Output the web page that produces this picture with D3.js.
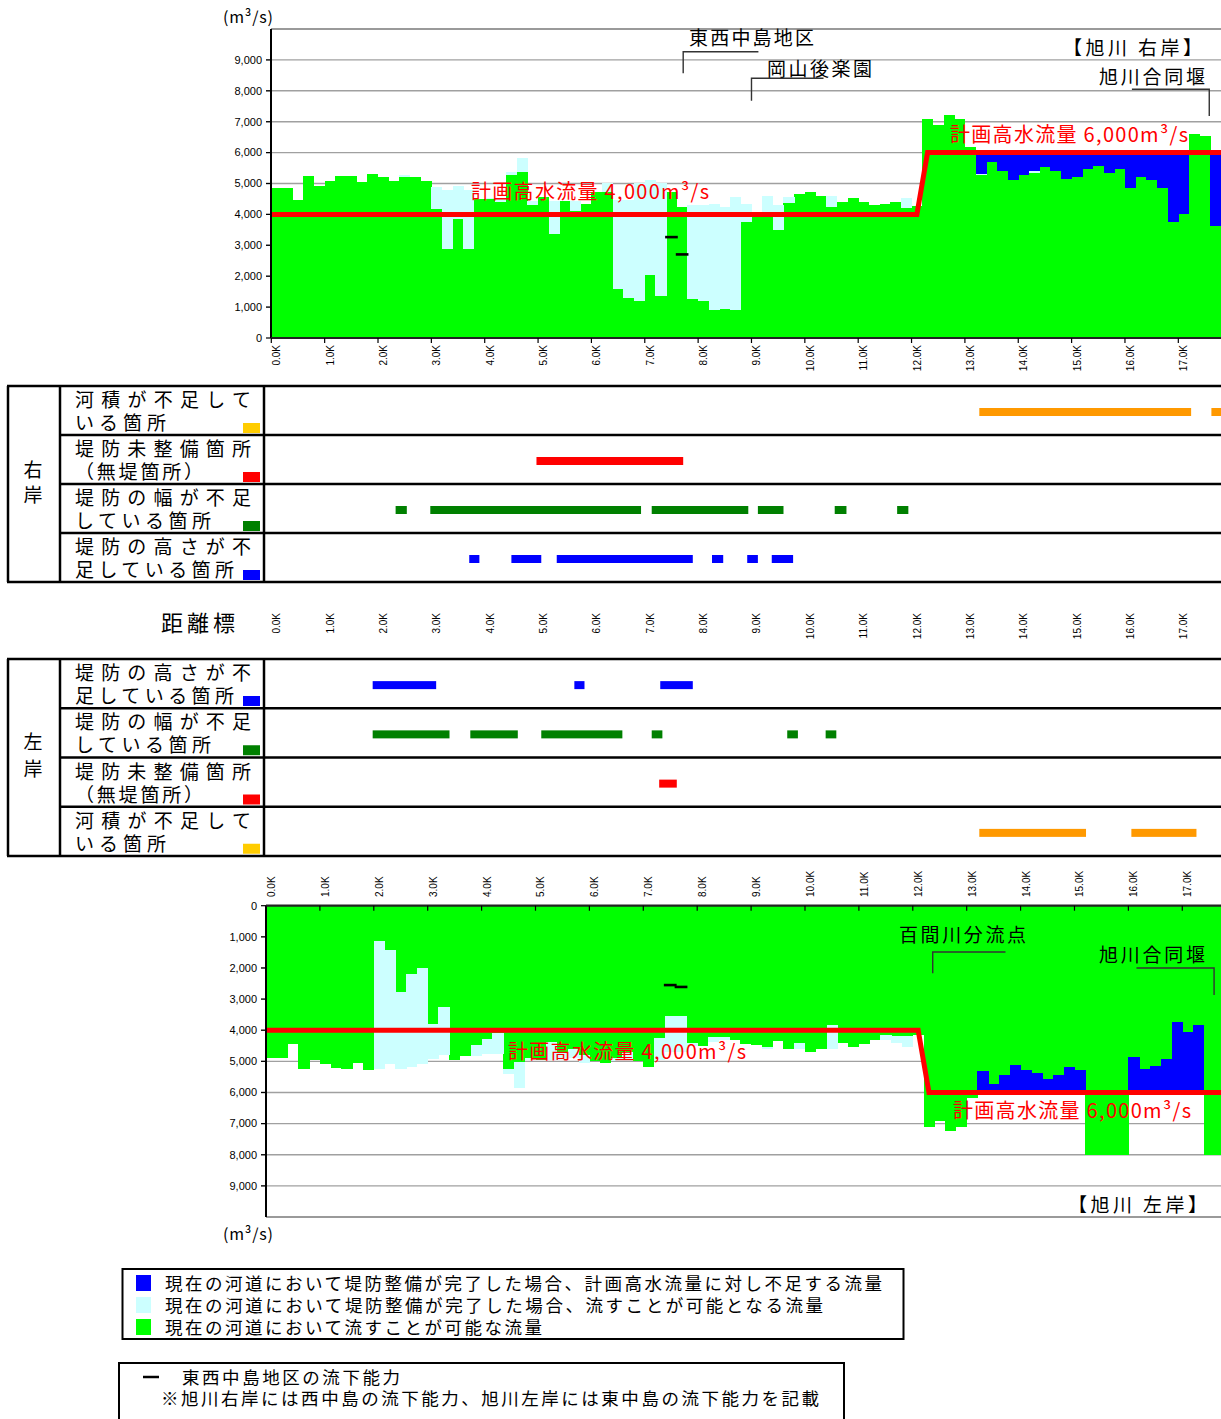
<!DOCTYPE html>
<html>
<head>
<meta charset="utf-8">
<script src="https://cdn.jsdelivr.net/npm/d3@7"></script>
<style>
  html, body { margin: 0; padding: 0; background: #fff; }
  svg { display: block; }
  text { font-family: "Noto Sans CJK JP", "Noto Sans", sans-serif; }
  .num { font-family: "Liberation Sans", Arial, sans-serif; }
  /* stacked label lines: Latin primary font keeps the line boxes compact,
     CJK glyphs come from the fallback */
  .tight { font-family: "Liberation Sans", "Noto Sans CJK JP", sans-serif; }
</style>
</head>
<body>
<svg id="chart" width="1221" height="1419"></svg>
<script>
// ---- Data -------------------------------------------------------------
// Survey stations (km). Each bar covers [station, station + 0.2].
const stations = [
  0.0, 0.2, 0.4, 0.6, 0.8, 1.0, 1.2, 1.4, 1.6, 1.8,
  2.0, 2.2, 2.4, 2.6, 2.8, 3.0, 3.2, 3.4, 3.6, 3.8,
  4.0, 4.2, 4.4, 4.6, 4.8, 5.0, 5.2, 5.4, 5.6, 5.8,
  6.0, 6.2, 6.4, 6.6, 6.8, 7.0, 7.2, 7.4, 7.6, 7.8,
  8.0, 8.2, 8.4, 8.6, 8.8, 9.0, 9.2, 9.4, 9.6, 9.8,
  10.0, 10.2, 10.4, 10.6, 10.8, 11.0, 11.2, 11.4, 11.6, 11.8,
  12.0, 12.2, 12.4, 12.6, 12.8, 13.0, 13.2, 13.4, 13.6, 13.8,
  14.0, 14.2, 14.4, 14.6, 14.8, 15.0, 15.2, 15.4, 15.6, 15.8,
  16.0, 16.2, 16.4, 16.6, 16.8, 17.0, 17.2, 17.4, 17.6
];
const stationStep = 0.2;

// Right bank (旭川 右岸): capacity of the present channel (m3/s)
const rightCurrent = [
  4850, 4850, 4450, 5230, 4935, 5085, 5230, 5230, 5040, 5310,
  5195, 5085, 5195, 5195, 5085, 4180, 2870, 3860, 2890, 4500,
  4500, 4390, 5260, 5380, 4300, 4550, 3370, 4440, 4095, 4350,
  4710, 4710, 1595, 1290, 1185, 2035, 1345, 4720, 4235, 1260,
  1185, 895, 950, 895, 3750, 4085, 4085, 3500, 4385, 4665,
  4710, 4580, 4255, 4410, 4515, 4410, 4300, 4340, 4410, 4200,
  4280, 7090, 6885, 7220, 7090, 6195, 5290, 5710, 5410, 5120,
  5280, 5335, 5550, 5420, 5150, 5225, 5465, 5570, 5335, 5465,
  4870, 5195, 5120, 4870, 3770, 4010, 6605, 6540, 3640
];
// Right bank: capacity once levee works are complete (m3/s)
const rightLevee = [
  4850, 4850, 4450, 5230, 4935, 5085, 5230, 5230, 5040, 5310,
  5220, 5085, 5260, 5195, 5085, 4900, 4785, 4935, 4785, 4500,
  4520, 4500, 5370, 5820, 4440, 4550, 4430, 4440, 4440, 4350,
  4710, 5030, 4470, 4470, 5010, 5120, 5010, 4720, 4235, 4310,
  4310, 4350, 4235, 4560, 4340, 4085, 4600, 4310, 4560, 4665,
  4710, 4580, 4600, 4410, 4515, 4410, 4300, 4340, 4410, 4525,
  4280, 7090, 6885, 7220, 7090, 6195, 5320, 5710, 5410, 5120,
  5280, 5390, 5550, 5420, 5150, 5225, 5465, 5570, 5335, 5465,
  4870, 5195, 5120, 4870, 3770, 4010, 6605, 6540, 3640
];

// Left bank (旭川 左岸): capacity of the present channel (m3/s)
const leftCurrent = [
  4890, 4890, 4440, 5250, 4965, 5070, 5220, 5250, 5040, 5290,
  1135, 1420, 2770, 2205, 2000, 3810, 3250, 4965, 4825, 4470,
  4290, 4090, 5240, 5030, 4900, 4950, 4370, 4700, 4600, 4800,
  4990, 5065, 4900, 4700, 5000, 5190, 4260, 3540, 3540, 4400,
  4500, 4210, 4210, 4310, 4440, 4475, 4530, 4350, 4600, 4410,
  4710, 4600, 3820, 4420, 4530, 4440, 4310, 4150, 4200, 4200,
  4150, 7100, 6920, 7240, 7100, 6190, 5310, 5730, 5430, 5130,
  5280, 5385, 5580, 5440, 5170, 5280, 8000, 8000, 8000, 8000,
  4870, 5245, 5140, 4915, 3750, 4045, 3830, 8000, 8000
];
// Left bank: capacity once levee works are complete (m3/s)
const leftLevee = [
  4890, 4890, 4440, 5250, 4965, 5070, 5220, 5250, 5040, 5290,
  5250, 5070, 5250, 5190, 5100, 4910, 4810, 4965, 4825, 4825,
  4770, 4770, 5400, 5860, 4950, 4950, 4960, 4950, 4900, 5050,
  4990, 5065, 5000, 5000, 5000, 5190, 4960, 4700, 4700, 4500,
  4500, 4370, 4310, 4310, 4440, 4475, 4610, 4350, 4600, 4610,
  4710, 4600, 4600, 4420, 4530, 4440, 4310, 4330, 4400, 4530,
  4150, 7100, 6920, 7240, 7100, 6190, 5310, 5730, 5430, 5130,
  5280, 5385, 5580, 5440, 5170, 5280, 8000, 8000, 8000, 8000,
  4870, 5245, 5140, 4915, 3750, 4045, 3830, 8000, 8000
];

// Design high-water discharge (計画高水流量) along the river
const planKm = [0.0, 12.1, 12.3, 17.8];
const planFlow = [4000, 4000, 6000, 6000];

// 東西中島地区 capacity (right bank: 西中島, left bank: 東中島)
const nakajimaKm = [7.4, 7.6];
const nakajimaRight = [3265, 2705];
const nakajimaLeft = [2550, 2610];

// Axis ticks
const kmTicks = [0, 1, 2, 3, 4, 5, 6, 7, 8, 9, 10, 11, 12, 13, 14, 15, 16, 17];
const kmTickLabels = ["0.0K", "1.0K", "2.0K", "3.0K", "4.0K", "5.0K", "6.0K", "7.0K", "8.0K",
  "9.0K", "10.0K", "11.0K", "12.0K", "13.0K", "14.0K", "15.0K", "16.0K", "17.0K"];
const flowTicks = [0, 1000, 2000, 3000, 4000, 5000, 6000, 7000, 8000, 9000];
const flowTickLabels = ["0", "1,000", "2,000", "3,000", "4,000", "5,000", "6,000", "7,000", "8,000", "9,000"];

// Problem sections [from km, to km]
const rightAreaShort = [[13.27, 17.24], [17.62, 17.8]];
const rightNoLevee = [[4.97, 7.72]];
const rightWidthShort = [[2.33, 2.54], [2.98, 6.93], [7.13, 8.94], [9.12, 9.60], [10.56, 10.78], [11.73, 11.94]];
const rightHeightShort = [[3.71, 3.90], [4.50, 5.06], [5.35, 7.90], [8.26, 8.47], [8.92, 9.12], [9.38, 9.78]];
const leftHeightShort = [[1.90, 3.09], [5.68, 5.87], [7.29, 7.90]];
const leftWidthShort = [[1.90, 3.34], [3.73, 4.62], [5.06, 6.58], [7.13, 7.33], [9.67, 9.87], [10.39, 10.59]];
const leftNoLevee = [[7.27, 7.60]];
const leftAreaShort = [[13.27, 15.27], [16.12, 17.34]];

// ---- Styles ------------------------------------------------------------
const C = {
  green: "#00FF00", cyan: "#CCFFFF", blue: "#0000FF", red: "#FF0000",
  grid: "#A0A0A0", dkGreen: "#008000", orange: "#FF9900", yellow: "#FFCC00"
};

const svg = d3.select("#chart");
const planAt = d3.scaleLinear(planKm, planFlow);

// ---- Flow chart ---------------------------------------------------------
function flowChart(cfg) {
  const { x, y, current, levee, marks, axisLeft } = cfg;
  const g = svg.append("g");
  const [y0, yTop] = [y(0), y(10000)];
  const xr = x.range();

  // horizontal gridlines behind the bars
  g.selectAll("line.grid").data(flowTicks.slice(1)).join("line")
    .attr("x1", axisLeft - 5).attr("x2", xr[1] + 10)
    .attr("y1", d => y(d)).attr("y2", d => y(d))
    .attr("stroke", C.grid).attr("stroke-width", 1.4);
  // frame line at 10,000
  g.append("line").attr("x1", axisLeft).attr("x2", xr[1] + 10)
    .attr("y1", yTop).attr("y2", yTop).attr("stroke", "#9a9a9a").attr("stroke-width", 2.2);

  const bars = stations.map((s, i) => {
    const plan = planAt(s + stationStep / 2);
    return { s, cur: current[i], lev: Math.max(levee[i], current[i]), plan };
  });
  const bx = d => x(d.s);
  const bw = d => x(d.s + stationStep) - x(d.s) + 0.4;
  const span = (a, b) => ({ top: Math.min(y(a), y(b)), h: Math.abs(y(a) - y(b)) });

  const bg = g.append("g").attr("shape-rendering", "crispEdges");
  bg.selectAll("rect.cur").data(bars).join("rect")
    .attr("x", bx).attr("width", bw)
    .attr("y", d => span(0, d.cur).top).attr("height", d => span(0, d.cur).h)
    .attr("fill", C.green);
  bg.selectAll("rect.lev").data(bars.filter(d => d.lev > d.cur)).join("rect")
    .attr("x", bx).attr("width", bw)
    .attr("y", d => span(d.cur, d.lev).top).attr("height", d => span(d.cur, d.lev).h)
    .attr("fill", C.cyan);
  bg.selectAll("rect.short").data(bars.filter(d => d.plan > d.lev)).join("rect")
    .attr("x", bx).attr("width", bw)
    .attr("y", d => span(d.lev, d.plan).top).attr("height", d => span(d.lev, d.plan).h)
    .attr("fill", C.blue);

  // design discharge line
  g.append("path")
    .datum(planKm.map((k, i) => [k, planFlow[i]]))
    .attr("d", d3.line().x(d => x(d[0])).y(d => y(d[1])))
    .attr("fill", "none").attr("stroke", C.red).attr("stroke-width", 5)
    .attr("stroke-linejoin", "miter");

  // 東西中島地区 capacity marks
  g.selectAll("line.mark").data(nakajimaKm).join("line")
    .attr("x1", k => x(k) - 1).attr("x2", k => x(k + stationStep) + 1)
    .attr("y1", (k, i) => y(marks[i])).attr("y2", (k, i) => y(marks[i]))
    .attr("stroke", "#000").attr("stroke-width", 2.6);

  // axes
  g.append("line").attr("x1", axisLeft).attr("x2", axisLeft)
    .attr("y1", Math.min(y0, yTop)).attr("y2", Math.max(y0, yTop))
    .attr("stroke", "#000").attr("stroke-width", 2);
  g.append("line").attr("x1", axisLeft).attr("x2", xr[1] + 10)
    .attr("y1", y0).attr("y2", y0).attr("stroke", "#222").attr("stroke-width", 2.2);
  g.selectAll("line.kt").data(kmTicks).join("line")
    .attr("x1", d => x(d)).attr("x2", d => x(d))
    .attr("y1", y0).attr("y2", y0 + 5)
    .attr("stroke", "#000").attr("stroke-width", 1.2);
  g.selectAll("line.yt").data(flowTicks).join("line")
    .attr("x1", axisLeft - 5).attr("x2", axisLeft)
    .attr("y1", d => y(d)).attr("y2", d => y(d))
    .attr("stroke", "#000").attr("stroke-width", 1.2);

  // flow tick labels
  g.selectAll("text.yl").data(flowTicks).join("text").attr("class", "num")
    .attr("x", axisLeft - 9).attr("y", d => y(d)).attr("dy", "0.35em")
    .attr("text-anchor", "end").attr("font-size", 11).attr("fill", "#000")
    .text((d, i) => flowTickLabels[i]);
  return g;
}

function kmLabels(x, yAnchor, anchor) {
  svg.append("g").selectAll("text").data(kmTicks).join("text").attr("class", "num")
    .attr("transform", d => `translate(${x(d) + 5.5},${yAnchor}) rotate(-90)`)
    .attr("dy", "0.35em").attr("text-anchor", anchor)
    .attr("font-size", 10).attr("fill", "#000")
    .text((d, i) => kmTickLabels[i]);
}

function label(txt, xPos, yPos, size, len, color) {
  const t = svg.append("text").attr("x", xPos).attr("y", yPos)
    .attr("font-size", size).attr("fill", color || "#000").text(txt);
  if (len) t.attr("textLength", len).attr("lengthAdjust", "spacing");
  return t;
}
// stacked lines, one text element each: lines = [[string, baselineY, length], ...]
function stacked(parent, xPos, size, lines, anchor) {
  lines.forEach(([s, yy, len]) => {
    const t = parent.append("text").attr("class", "tight")
      .attr("x", xPos).attr("y", yy).attr("font-size", size).attr("fill", "#000").text(s);
    if (anchor) t.attr("text-anchor", anchor);
    if (len) t.attr("textLength", len).attr("lengthAdjust", "spacing");
  });
}
function leader(pts) {
  svg.append("path").attr("d", d3.line()(pts))
    .attr("fill", "none").attr("stroke", "#333").attr("stroke-width", 1.4);
}

// ---- Right bank chart (top) -------------------------------------------
const xTop = d3.scaleLinear([0, 17.8], [271.3, 1221]);
const yTop = d3.scaleLinear([0, 10000], [338, 29]);
flowChart({ x: xTop, y: yTop, current: rightCurrent, levee: rightLevee, marks: nakajimaRight, axisLeft: 271 });
kmLabels(xTop, 345, "end");

label("(m³/s)", 223, 23, 16, 50);
label("計画高水流量 4,000m³/s", 471, 199, 20, 238, C.red);
label("計画高水流量 6,000m³/s", 950, 142, 20, 238, C.red);
label("東西中島地区", 689, 45, 19, 125);
leader([[xTop(7.72), yTop(8566)], [xTop(7.72), yTop(9265)], [xTop(9.13), yTop(9265)]]);
label("岡山後楽園", 767, 76, 19, 105);
leader([[xTop(9.0), yTop(7680)], [xTop(9.0), yTop(8405)], [xTop(10.35), yTop(8405)]]);
label("【旭川 右岸】", 1063, 55, 19, 139);
label("旭川合同堰", 1099, 84, 19, 106);
leader([[xTop(16.13), yTop(8049)], [xTop(17.58), yTop(8049)], [xTop(17.58), yTop(7184)]]);

// ---- Problem section tables ---------------------------------------------
function table(cfg) {
  const { top, rowH, bank, bankY, rows } = cfg;
  const g = svg.append("g");
  const bottom = top + rowH * rows.length;
  rows.forEach((r, i) => {
    const rt = top + i * rowH;
    stacked(g, 75, 19, [[r.text[0], rt + 21, r.len[0]], [r.text[1], rt + 44, r.len[1]]]);
    g.append("rect").attr("x", 243).attr("y", rt + 37).attr("width", 17).attr("height", 10)
      .attr("fill", r.swatch);
    // section bars
    g.selectAll(null).data(r.ranges).join("rect")
      .attr("x", d => xTop(d[0])).attr("width", d => xTop(d[1]) - xTop(d[0]))
      .attr("y", rt + rowH / 2 - 2.5).attr("height", 8).attr("fill", r.bar);
    if (i > 0) {
      g.append("line").attr("x1", 60).attr("x2", 1221).attr("y1", rt).attr("y2", rt)
        .attr("stroke", "#000").attr("stroke-width", 2.5);
    }
  });
  [top, bottom].forEach(yy => g.append("line").attr("x1", 7).attr("x2", 1221)
    .attr("y1", yy).attr("y2", yy).attr("stroke", "#000").attr("stroke-width", 2.5));
  [8, 60, 264].forEach(xx => g.append("line").attr("x1", xx).attr("x2", xx)
    .attr("y1", top).attr("y2", bottom).attr("stroke", "#000").attr("stroke-width", 2.5));
  stacked(g, 33, 19, bank.map((ch, i) => [ch, bankY[i]]), "middle");
}

const rowArea = { text: ["河積が不足して", "いる箇所"], len: [176, 91], swatch: C.yellow, bar: C.orange };
const rowNoLevee = { text: ["堤防未整備箇所", "（無堤箇所）"], len: [176, 128], swatch: C.red, bar: C.red };
const rowWidth = { text: ["堤防の幅が不足", "している箇所"], len: [176, 136], swatch: C.dkGreen, bar: C.dkGreen };
const rowHeight = { text: ["堤防の高さが不", "足している箇所"], len: [176, 159], swatch: C.blue, bar: C.blue };

table({
  top: 386, rowH: 49, bank: ["右", "岸"], bankY: [477, 502],
  rows: [
    { ...rowArea, ranges: rightAreaShort },
    { ...rowNoLevee, ranges: rightNoLevee },
    { ...rowWidth, ranges: rightWidthShort },
    { ...rowHeight, ranges: rightHeightShort }
  ]
});

label("距離標", 161, 631, 22, 74);
kmLabels(xTop, 613, "end");

table({
  top: 659, rowH: 49.25, bank: ["左", "岸"], bankY: [749, 776],
  rows: [
    { ...rowHeight, ranges: leftHeightShort },
    { ...rowWidth, ranges: leftWidthShort },
    { ...rowNoLevee, ranges: leftNoLevee },
    { ...rowArea, ranges: leftAreaShort }
  ]
});

// ---- Left bank chart (bottom, inverted) ----------------------------------
const xBot = d3.scaleLinear([0, 17.8], [266, 1225.4]);
const yBot = d3.scaleLinear([0, 10000], [905.7, 1217]);
flowChart({ x: xBot, y: yBot, current: leftCurrent, levee: leftLevee, marks: nakajimaLeft, axisLeft: 266 });
kmLabels(xBot, 897, "start");

label("(m³/s)", 223, 1240, 16, 50);
label("計画高水流量 4,000m³/s", 508, 1059, 20, 238, C.red);
label("計画高水流量 6,000m³/s", 953, 1118, 20, 238, C.red);
label("百間川分流点", 899, 942, 19, 127);
leader([[xBot(12.37), yBot(2170)], [xBot(12.37), yBot(1486)], [xBot(13.72), yBot(1486)]]);
label("旭川合同堰", 1099, 962, 19, 106);
leader([[xBot(16.15), yBot(2000)], [xBot(17.59), yBot(2000)], [xBot(17.59), yBot(2867)]]);
label("【旭川 左岸】", 1068, 1212, 19, 139);

// ---- Legends -----------------------------------------------------------
const legendItems = [
  "現在の河道において堤防整備が完了した場合、計画高水流量に対し不足する流量",
  "現在の河道において堤防整備が完了した場合、流すことが可能となる流量",
  "現在の河道において流すことが可能な流量"
];
const legendColors = [C.blue, C.cyan, C.green];
const legendLens = [717, 658, 377];
svg.append("rect").attr("x", 122.5).attr("y", 1269).attr("width", 781).attr("height", 70)
  .attr("fill", "none").attr("stroke", "#000").attr("stroke-width", 2);
legendItems.forEach((t, i) => {
  svg.append("rect").attr("x", 136).attr("y", 1275 + i * 22).attr("width", 15).attr("height", 16)
    .attr("fill", legendColors[i]);
});
stacked(svg, 165, 17.5, legendItems.map((t, i) => [t, 1289.5 + i * 22, legendLens[i]]));

svg.append("rect").attr("x", 119).attr("y", 1363).attr("width", 725).attr("height", 70)
  .attr("fill", "none").attr("stroke", "#000").attr("stroke-width", 2);
svg.append("line").attr("x1", 143).attr("x2", 159).attr("y1", 1377).attr("y2", 1377)
  .attr("stroke", "#000").attr("stroke-width", 2.5);
stacked(svg, 182, 17.5, [["東西中島地区の流下能力", 1384, 218]]);
stacked(svg, 161, 17.5, [["※旭川右岸には西中島の流下能力、旭川左岸には東中島の流下能力を記載", 1405, 658]]);
</script>
</body>
</html>
